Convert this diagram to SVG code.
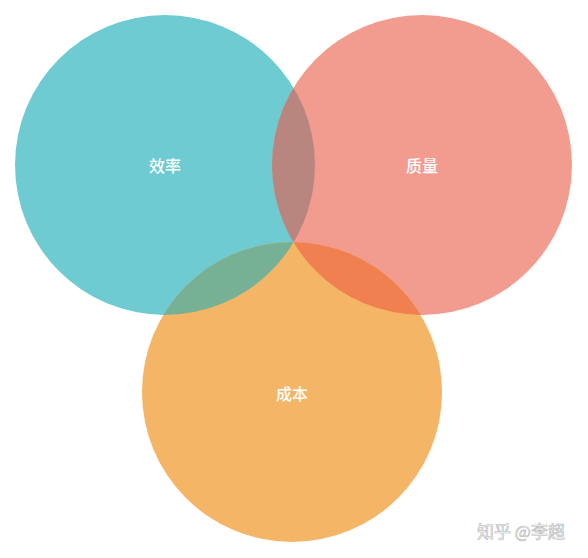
<svg xmlns="http://www.w3.org/2000/svg" width="588" height="558" viewBox="0 0 588 558">
<style>
.lbl{font-family:"Noto Sans CJK SC","Noto Sans",sans-serif;font-size:16px;font-weight:500;fill:#ffffff;text-anchor:middle;dominant-baseline:central}
.wm{font-family:"Noto Sans CJK SC","Noto Sans",sans-serif;font-size:17px;fill:#ffffff;stroke:#b4b4b4;stroke-width:0.6}
</style>
<defs>
<clipPath id="cA"><circle cx="165" cy="165" r="150"/></clipPath>
<clipPath id="cB"><circle cx="422" cy="165" r="150"/></clipPath>
</defs>
<rect width="588" height="558" fill="#ffffff"/>
<g id="node-efficiency"><circle cx="165" cy="165" r="150" fill="#6ECBD2"/></g>
<g id="node-quality"><circle cx="422" cy="165" r="150" fill="#F29C90"/></g>
<g id="node-cost"><circle cx="292" cy="392" r="150" fill="#F5B567"/></g>
<g id="overlaps">
<circle cx="422" cy="165" r="150" fill="#B9867F" clip-path="url(#cA)"/>
<circle cx="292" cy="392" r="150" fill="#76B195" clip-path="url(#cA)"/>
<circle cx="292" cy="392" r="150" fill="#F08050" clip-path="url(#cB)"/>
</g>
<g id="labels">
<text class="lbl" x="165" y="165">效率</text>
<text class="lbl" x="422" y="165">质量</text>
<text class="lbl" x="292" y="393">成本</text>
</g>
<text class="wm" x="477" y="538">知乎 @李超</text>
</svg>
